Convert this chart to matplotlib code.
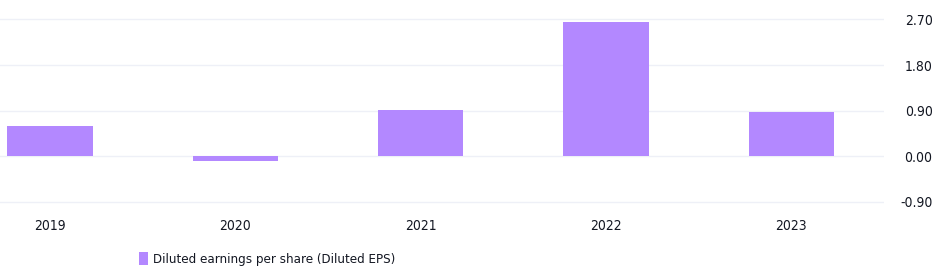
import matplotlib
matplotlib.use("Agg")
import matplotlib.pyplot as plt
import numpy as np

years = ['2019', '2020', '2021', '2022', '2023']
eps = [0.60, -0.10, 0.92, 2.65, 0.87]
ytick_vals = [-0.90, 0.00, 0.90, 1.80, 2.70]
series_name = 'Diluted earnings per share (Diluted EPS)'

bar_color = '#b388ff'
text_color = '#131722'
grid_color = '#eef0f7'

fig = plt.figure(figsize=(9.4, 2.68), dpi=100)
# axes from x=0 to 884 px, y=0 to 215 px
ax = fig.add_axes([0.0, 1 - 215 / 268, 884 / 940, 215 / 268])

x = np.arange(len(years))
ax.bar(x, eps, width=0.46, color=bar_color, zorder=2, label=series_name)

ax.set_xlim(-0.27, 4.5)
ax.set_ylim(-1.164, 3.085)
ax.set_yticks(ytick_vals)
ax.set_yticklabels(['%.2f' % v for v in ytick_vals])
ax.yaxis.tick_right()
ax.grid(axis='y', color=grid_color, linewidth=1, zorder=0)
ax.set_xticks(x)
ax.set_xticklabels(years)
for s in ax.spines.values():
    s.set_visible(False)
ax.tick_params(axis='both', length=0, colors=text_color, labelsize=10)
ax.tick_params(axis='y', pad=35)
ax.tick_params(axis='x', pad=3)
for lbl in ax.get_xticklabels() + ax.get_yticklabels():
    lbl.set_fontstretch('condensed')
for lbl in ax.get_yticklabels():
    lbl.set_horizontalalignment('right')

leg = fig.legend(loc='center left', bbox_to_anchor=(132 / 940, 1 - 259 / 268),
                 frameon=False, handlelength=0.75, handleheight=1.2,
                 handletextpad=0.35, borderpad=0,
                 prop={'size': 9.5, 'stretch': 'condensed'})
for t in leg.get_texts():
    t.set_color(text_color)

fig.savefig('out.png', dpi=100)
